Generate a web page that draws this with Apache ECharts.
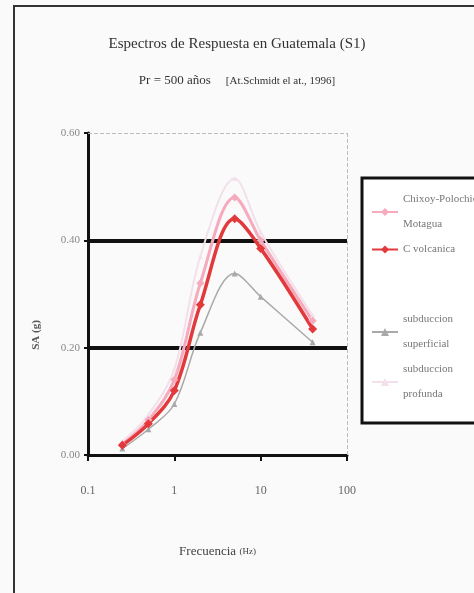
<!DOCTYPE html>
<html>
<head>
<meta charset="utf-8">
<script src="https://cdn.jsdelivr.net/npm/echarts@6/dist/echarts.min.js"></script>
<style>
  html, body { margin: 0; padding: 0; background: #fafafa; }
  #chart { width: 474px; height: 593px; }
</style>
</head>
<body>
<div id="chart"></div>
<script>
// frecuencias (Hz) y aceleracion espectral SA (g)
const freq = [0.25, 0.5, 1, 2, 5, 10, 40]
const chixoy = [0.02, 0.065, 0.14, 0.32, 0.48, 0.40, 0.25]
const volcanica = [0.018, 0.058, 0.12, 0.28, 0.44, 0.385, 0.235]
const superficial = [0.012, 0.048, 0.095, 0.228, 0.338, 0.295, 0.21]
const profunda = [0.025, 0.075, 0.16, 0.37, 0.515, 0.415, 0.26]
const yTicks = [0, 0.2, 0.4, 0.6]

const serif = '"Liberation Serif", "DejaVu Serif", serif'

function pairs(ys) {
    return freq.map((f, i) => [f, ys[i]])
}

const chart = echarts.init(document.getElementById('chart'))

const legendText = { fontFamily: serif, fontSize: 11, color: '#777', lineHeight: 25 }

const option = {
    backgroundColor: '#fafafa',
    animation: false,
    title: [{
        text: 'Espectros de Respuesta en Guatemala (S1)',
        left: 'center',
        top: 32,
        textStyle: { fontFamily: serif, fontSize: 15, fontWeight: 'normal', color: '#333' }
    }, {
        text: '{a|Pr = 500 años}   {b|[At.Schmidt el at., 1996]}',
        left: 'center',
        top: 67,
        textStyle: {
            fontWeight: 'normal',
            rich: {
                a: { fontFamily: serif, fontSize: 13, fontWeight: 'normal', color: '#333' },
                b: { fontFamily: serif, fontSize: 11, fontWeight: 'normal', color: '#333' }
            }
        }
    }],
    grid: { left: 88, right: 127, top: 133, bottom: 138 },
    legend: [{
        orient: 'vertical',
        left: 366,
        top: 182,
        itemWidth: 26,
        itemHeight: 10,
        itemGap: 0,
        data: ['Chixoy-Polochic\nMotagua', 'C volcanica'],
        textStyle: legendText
    }, {
        orient: 'vertical',
        left: 366,
        top: 302,
        itemWidth: 26,
        itemHeight: 10,
        itemGap: 0,
        data: ['subduccion\nsuperficial', 'subduccion\nprofunda'],
        textStyle: legendText
    }],
    xAxis: {
        type: 'log',
        logBase: 10,
        min: 0.1,
        max: 100,
        axisLine: { lineStyle: { color: '#111', width: 3 } },
        axisTick: { show: true, length: 6, lineStyle: { color: '#111', width: 2 } },
        minorTick: { show: false },
        splitLine: { show: false },
        axisLabel: {
            margin: 30,
            fontFamily: serif,
            fontSize: 12,
            color: '#666',
            formatter: v => String(v)
        },
        name: '{a|Frecuencia} {b|(Hz)}',
        nameLocation: 'middle',
        nameGap: 90,
        nameTextStyle: {
            rich: {
                a: { fontFamily: serif, fontSize: 13, color: '#444' },
                b: { fontFamily: serif, fontSize: 9, color: '#444' }
            }
        }
    },
    yAxis: {
        type: 'value',
        min: 0,
        max: 0.6,
        interval: 0.2,
        axisLine: { show: true, lineStyle: { color: '#111', width: 3 } },
        axisTick: { show: true, length: 4, lineStyle: { color: '#111', width: 2 } },
        splitLine: {
            show: true,
            lineStyle: { color: ['transparent', '#111', '#111', 'transparent'], width: 4 }
        },
        axisLabel: {
            margin: 8,
            fontFamily: serif,
            fontSize: 11,
            color: '#888',
            formatter: v => v.toFixed(2)
        }
    },
    graphic: [{
        type: 'rect',
        shape: { x: 14, y: 6, width: 480, height: 600 },
        style: { fill: 'none', stroke: '#333', lineWidth: 2 },
        silent: true
    }, {
        type: 'rect',
        shape: { x: 362, y: 178, width: 130, height: 245 },
        style: { fill: '#fff', stroke: '#111', lineWidth: 3 },
        z: -1,
        silent: true
    }, {
        type: 'text',
        x: 36,
        y: 335,
        rotation: Math.PI / 2,
        style: {
            text: 'SA (g)',
            fontFamily: serif,
            fontSize: 11,
            fontWeight: 'bold',
            fill: '#555',
            align: 'center',
            verticalAlign: 'middle'
        }
    }],
    series: [{
        name: 'subduccion\nprofunda',
        type: 'line',
        smooth: 0.35,
        data: pairs(profunda),
        symbol: 'triangle',
        symbolSize: 5,
        lineStyle: { color: '#f3e0ea', width: 2 },
        itemStyle: { color: '#f3e0ea' },
        markLine: {
            silent: true,
            symbol: 'none',
            label: { show: false },
            lineStyle: { color: '#bbb', width: 1, type: 'dashed' },
            data: [{ yAxis: yTicks[3] }, { xAxis: 100 }]
        }
    }, {
        name: 'Chixoy-Polochic\nMotagua',
        type: 'line',
        smooth: 0.35,
        data: pairs(chixoy),
        symbol: 'diamond',
        symbolSize: 8,
        lineStyle: { color: '#f5aabd', width: 3 },
        itemStyle: { color: '#f5aabd' }
    }, {
        name: 'subduccion\nsuperficial',
        type: 'line',
        smooth: 0.35,
        data: pairs(superficial),
        symbol: 'triangle',
        symbolSize: 6,
        lineStyle: { color: '#a9a9a9', width: 1.5 },
        itemStyle: { color: '#a9a9a9' }
    }, {
        name: 'C volcanica',
        type: 'line',
        smooth: 0.35,
        data: pairs(volcanica),
        symbol: 'diamond',
        symbolSize: 9,
        lineStyle: { color: '#e23a3c', width: 3.5 },
        itemStyle: { color: '#e23a3c' }
    }]
}

chart.setOption(option)
</script>
</body>
</html>
